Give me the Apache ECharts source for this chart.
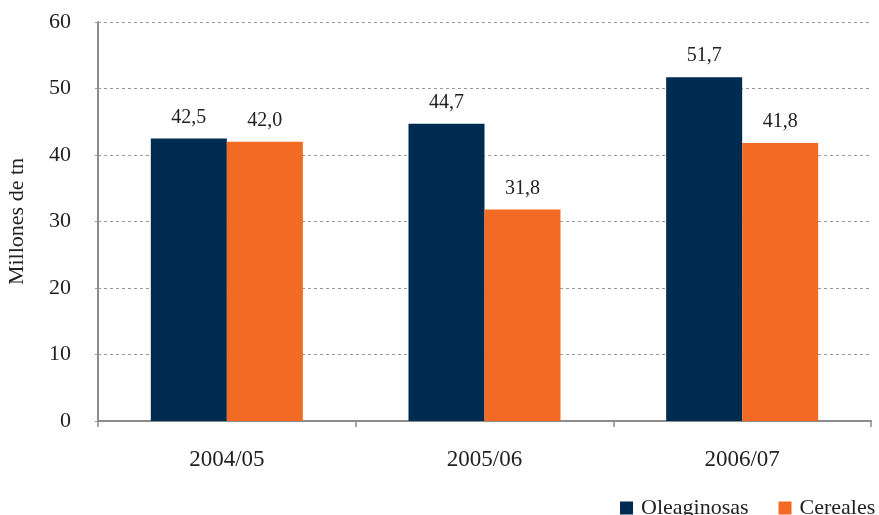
<!DOCTYPE html>
<html><head><meta charset="utf-8">
<script src="https://cdn.jsdelivr.net/npm/echarts@6/dist/echarts.min.js"></script>
<style>html,body{margin:0;padding:0;background:#fff}#c{width:879px;height:515px}</style>
</head><body><div id="c"></div>
<script>
var categories = ['2004/05', '2005/06', '2006/07'];
var oleaginosas = [42.5, 44.7, 51.7];
var cereales = [42.0, 31.8, 41.8];
var yTicks = {min: 0, max: 60, interval: 10};
var FONT = '"Liberation Serif", serif';
var chart = echarts.init(document.getElementById('c'));
function lbl(){return {show:true,position:'top',distance:11,fontFamily:FONT,fontSize:20,color:'#222',
  formatter:function(p){return p.value.toFixed(1).replace('.',',');}};}
chart.setOption({
  animation:false,
  textStyle:{fontFamily:FONT},
  grid:{left:98,right:8,top:22,bottom:94,containLabel:false,outerBoundsMode:'none'},
  legend:{left:620,top:497,width:400,itemWidth:13,itemHeight:13,itemGap:30,icon:'rect',padding:0,
    textStyle:{fontFamily:FONT,fontSize:22,color:'#222',padding:[0,0,0,3]},data:['Oleaginosas','Cereales']},
  xAxis:{type:'category',data:categories,
    axisLine:{lineStyle:{color:'#8c8c8c',width:2}},
    axisTick:{show:true,length:6,lineStyle:{color:'#8c8c8c',width:1.5}},
    axisLabel:{fontFamily:FONT,fontSize:23,color:'#222',margin:27}},
  yAxis:{type:'value',min:yTicks.min,max:yTicks.max,interval:yTicks.interval,
    name:'Millones de tn',nameLocation:'middle',nameGap:70,nameRotate:90,
    nameTextStyle:{fontFamily:FONT,fontSize:22,color:'#222'},
    axisLine:{show:true,lineStyle:{color:'#8c8c8c',width:2}},
    axisTick:{show:true,length:5,lineStyle:{color:'#999',type:[3,3]}},
    axisLabel:{fontFamily:FONT,fontSize:22,color:'#222',margin:27},
    splitLine:{show:true,lineStyle:{color:'#999',type:[3,3],width:1}}},
  series:[
    {name:'Oleaginosas',type:'bar',data:oleaginosas,barGap:'0%',barCategoryGap:'41%',
     itemStyle:{color:'#002B51'},label:lbl()},
    {name:'Cereales',type:'bar',data:cereales,
     itemStyle:{color:'#F26A24'},label:lbl()}
  ]
});
</script></body></html>
